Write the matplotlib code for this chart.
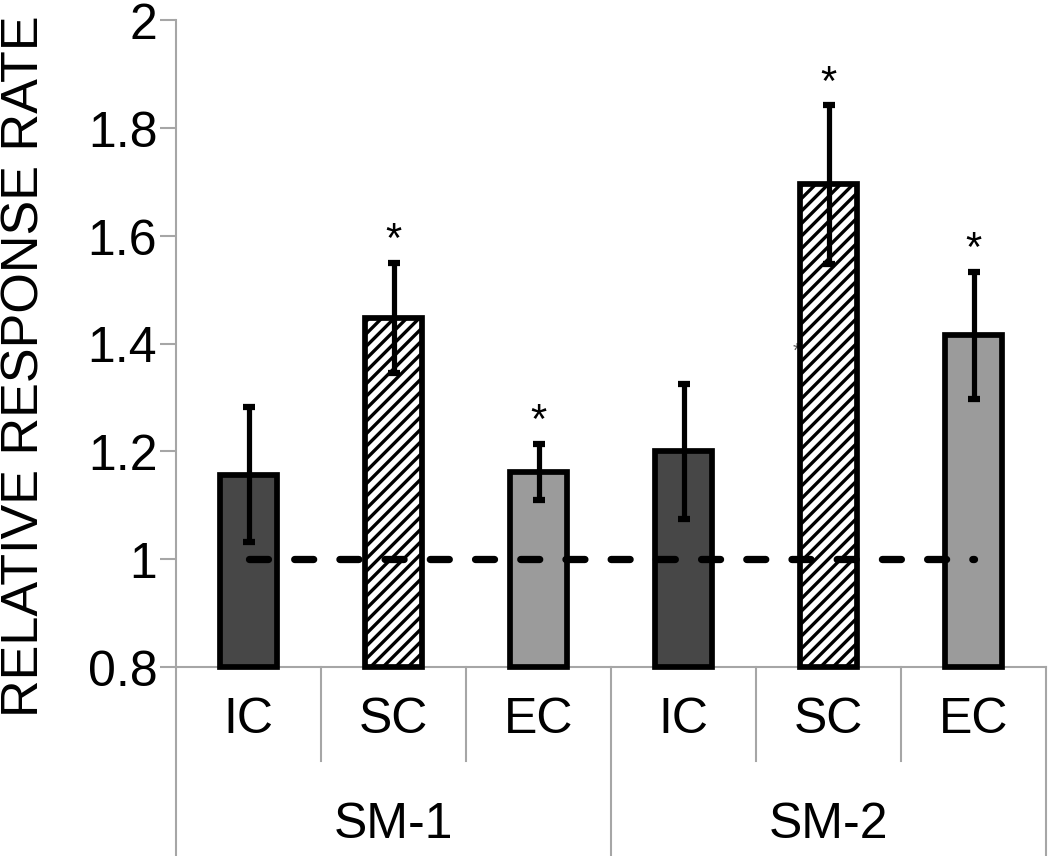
import matplotlib.pyplot as plt

plt.rcParams['font.family'] = ['Liberation Sans', 'DejaVu Sans']
plt.rcParams['hatch.linewidth'] = 3.2

groups = ['SM-1', 'SM-2']
conds = ['IC', 'SC', 'EC', 'IC', 'SC', 'EC']
means = [1.157, 1.448, 1.162, 1.200, 1.695, 1.415]
errs = [0.125, 0.102, 0.052, 0.125, 0.147, 0.118]
signif = [False, True, True, False, True, True]

fills = {'IC': '#474747', 'SC': 'white', 'EC': '#9b9b9b'}
hatches = {'IC': None, 'SC': '//', 'EC': None}
gray = '#a6a6a6'

fig = plt.figure(figsize=(14, 857 / 75), dpi=75)
ax = fig.add_axes([176 / 1050, 189 / 857, 870 / 1050, 647 / 857])

x = list(range(len(conds)))
for i, c in enumerate(conds):
    ax.bar(x[i], means[i] - 0.8, bottom=0.8, width=0.39, color=fills[c],
           hatch=hatches[c], edgecolor='black', linewidth=5.5, zorder=3,
           clip_on=False)
ax.errorbar(x, means, yerr=errs, fmt='none', ecolor='black', elinewidth=5,
            capsize=6, capthick=6, zorder=5)

# reference line at 1
ax.plot([x[0], x[-1]], [1, 1], color='black', linewidth=7,
        dashes=(2.6, 3.6), dash_capstyle='round', zorder=4)

for i in x:
    if signif[i]:
        ax.text(i, means[i] + errs[i] + 0.005, '*', ha='center', va='bottom',
                fontsize=40, zorder=6)
# faint stray mark half hidden behind the SM-2 SC bar
ax.text(4 - 0.22, 1.37, '*', ha='center', va='bottom', fontsize=20,
        color='#555555', zorder=1)

ax.set_xlim(-0.5, len(conds) - 0.5)
ax.set_ylim(0.8, 2.0)
ax.set_yticks([0.8, 1.0, 1.2, 1.4, 1.6, 1.8, 2.0])
ax.set_yticklabels(['0.8', '1', '1.2', '1.4', '1.6', '1.8', '2'])
ax.tick_params(axis='y', length=15, width=2, color=gray, labelsize=48, pad=3)
ax.set_xticks([])

for s in ['top', 'right']:
    ax.spines[s].set_visible(False)
for s in ['left', 'bottom']:
    ax.spines[s].set_color(gray)
    ax.spines[s].set_linewidth(2)

# two-level category axis
tr = ax.get_xaxis_transform()
for k in range(len(conds) + 1):
    xb = k - 0.5
    ybot = -0.292 if k % 3 == 0 else -0.145
    ax.plot([xb, xb], [0, ybot], color=gray, linewidth=2, transform=tr,
            clip_on=False)
for i, c in enumerate(conds):
    ax.text(i, -0.08, c, ha='center', va='center', fontsize=48, transform=tr)
for g, name in enumerate(groups):
    ax.text(3 * g + 1, -0.243, name, ha='center', va='center', fontsize=48,
            transform=tr)

fig.text(25 / 1050, 1 - 366 / 857, 'RELATIVE RESPONSE RATE', rotation=90,
         ha='center', va='center', fontsize=50)

fig.savefig('out.png', dpi=75)
